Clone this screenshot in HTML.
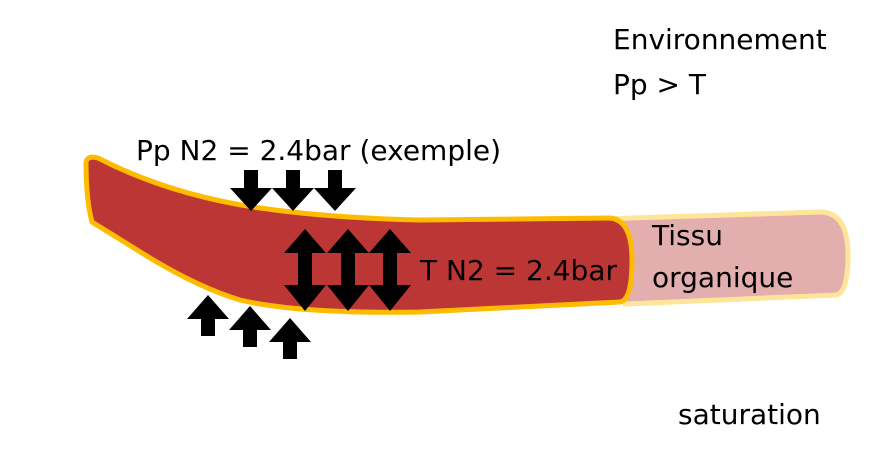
<!DOCTYPE html>
<html><head><meta charset="utf-8"><style>
html,body{margin:0;padding:0;background:#fff;}
svg{display:block;}
text{font-family:"DejaVu Sans","Liberation Sans",sans-serif;font-size:28px;fill:#000;}
</style></head><body>
<svg width="895" height="454" viewBox="0 0 895 454" xmlns="http://www.w3.org/2000/svg">
<path d="M600,219 L820,212 Q848,212 848,255 Q848,293 836,295 L625,304 Z" fill="#e3aeae" stroke="#ffe59a" stroke-width="5"/>
<path d="M86,162 Q88,155 98,158 Q170,195 260,208 Q330,218 420,220 L610,218 Q632,220 632,260 Q632,300 620,302 L420,312 Q300,314 240,300 Q200,288 150,258 L92,222 Q86,200 86,162 Z" fill="#bc3636" stroke="#ffbb00" stroke-width="5"/>
<g fill="#000">
<path d="M244,170h14v18h14l-21,23l-21,-23h14z"/>
<path d="M286,170h14v18h14l-21,23l-21,-23h14z"/>
<path d="M328,170h14v18h14l-21,23l-21,-23h14z"/>
<path d="M305,229l21,24h-14v32h14l-21,26l-21,-26h14v-32h-14z"/>
<path d="M348,229l21,24h-14v32h14l-21,26l-21,-26h14v-32h-14z"/>
<path d="M390,229l21,24h-14v32h14l-21,26l-21,-26h14v-32h-14z"/>
<path d="M208,295l21,24h-14v17h-14v-17h-14z"/>
<path d="M250,306l21,24h-14v17h-14v-17h-14z"/>
<path d="M290,318l21,24h-14v17h-14v-17h-14z"/>
</g>
<text x="613" y="49">Environnement</text>
<text x="613" y="94">Pp &gt; T</text>
<text x="136" y="160">Pp N2 = 2.4bar (exemple)</text>
<text x="420" y="280">T N2 = 2.4bar</text>
<text x="652" y="245">Tissu</text>
<text x="652" y="287">organique</text>
<text x="678" y="424">saturation</text>
</svg>
</body></html>
